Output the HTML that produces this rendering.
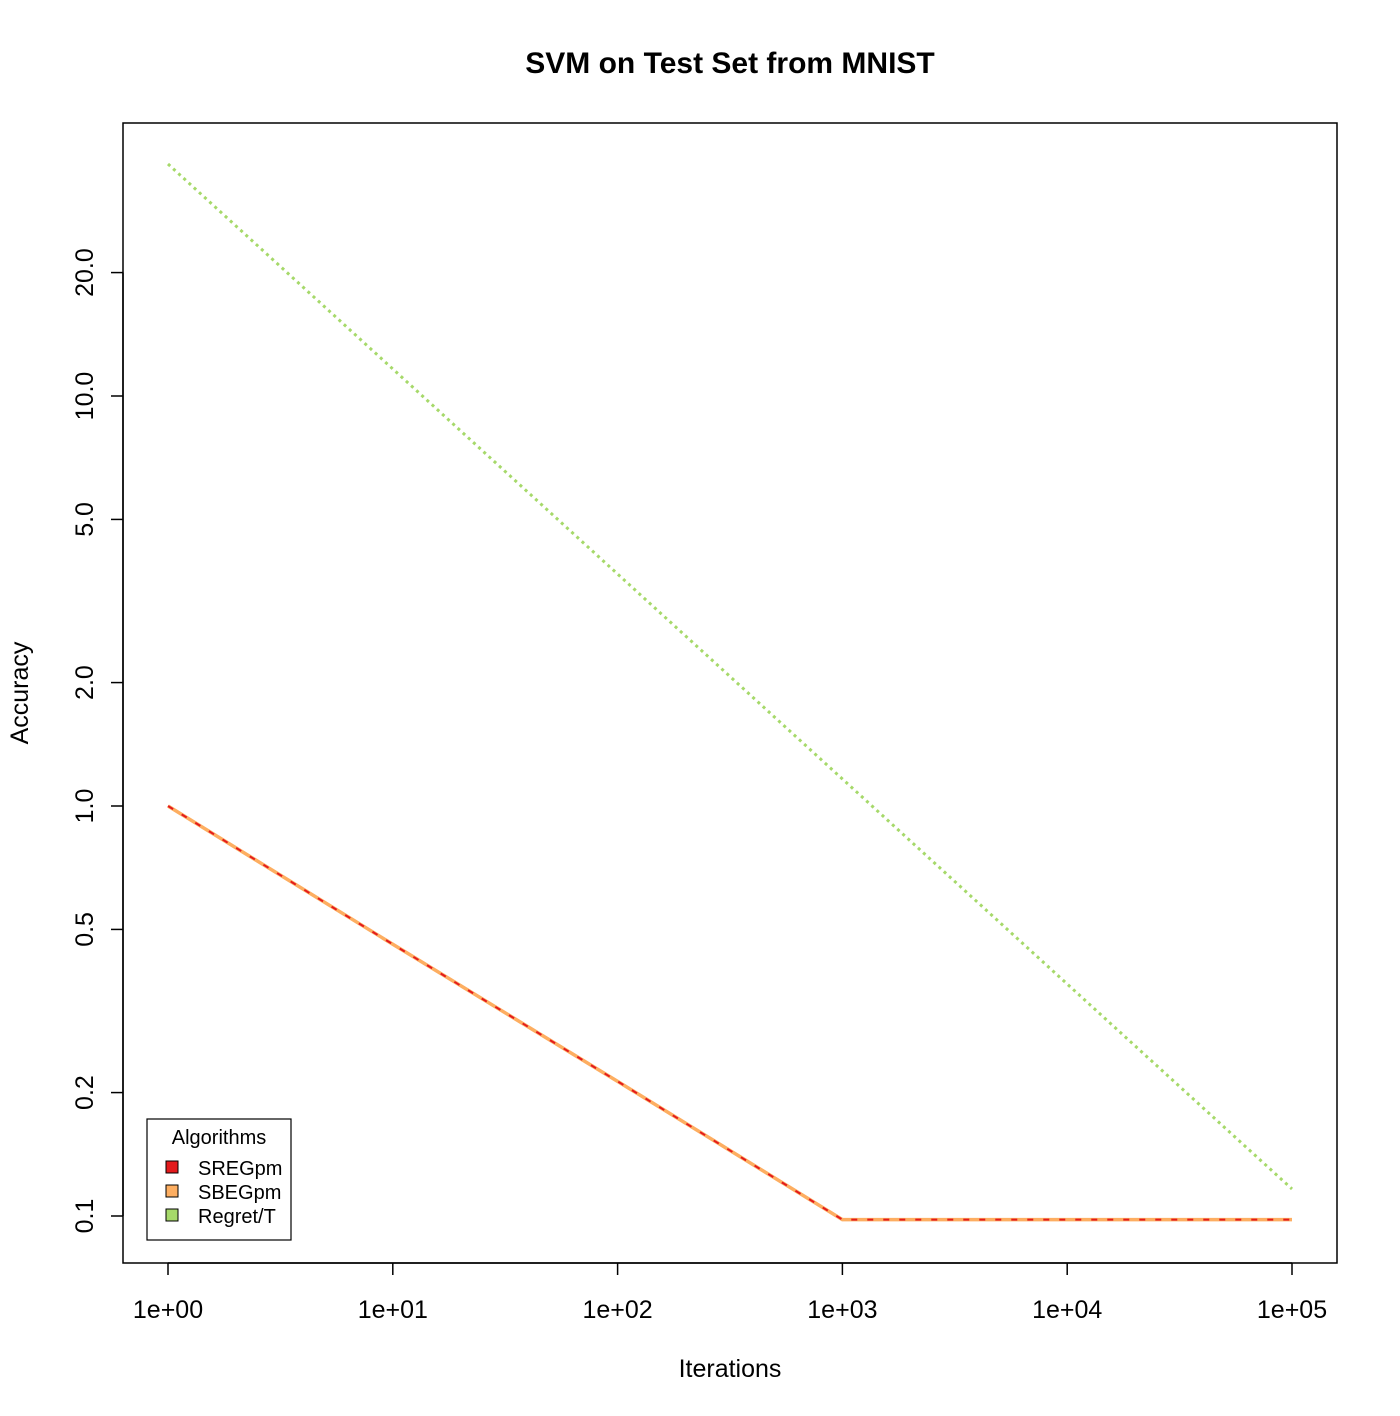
<!DOCTYPE html>
<html><head><meta charset="utf-8"><style>
body{margin:0;background:#fff}
svg{display:block;font-family:"Liberation Sans",sans-serif}
</style></head><body>
<svg id="chart" width="1400" height="1416" viewBox="0 0 1400 1416">
<rect width="1400" height="1416" fill="#fff"/>
<text x="730" y="73" text-anchor="middle" font-size="30" font-weight="bold">SVM on Test Set from MNIST</text>
<rect x="123" y="123" width="1214" height="1140" fill="none" stroke="#000" stroke-width="1.5"/>
<g id="xaxis"></g>
<g id="yaxis"></g>
<text x="730" y="1377" text-anchor="middle" font-size="25">Iterations</text>
<text transform="translate(28,693) rotate(-90)" text-anchor="middle" font-size="25">Accuracy</text>
<g id="series"></g>
<g>
<rect x="147" y="1119" width="144" height="121" fill="#fff" stroke="#000" stroke-width="1.2"/>
<text x="219" y="1144" text-anchor="middle" font-size="20">Algorithms</text>
<rect x="166" y="1161" width="12" height="12" fill="#e31a1c" stroke="#000"/>
<text x="198" y="1175" font-size="20">SREGpm</text>
<rect x="166" y="1185" width="12" height="12" fill="#fdae61" stroke="#000"/>
<text x="198" y="1199" font-size="20">SBEGpm</text>
<rect x="166" y="1209" width="12" height="12" fill="#a6d96a" stroke="#000"/>
<text x="198" y="1223" font-size="20">Regret/T</text>
</g>
</svg>
<script>
const iterations=[1,10,100,1000,10000,100000];
const sregpm=[1.0,0.46,0.213,0.098,0.098,0.098];
const sbegpm=[1.0,0.46,0.213,0.098,0.098,0.098];
const regret=[36.8,11.64,3.68,1.164,0.368,0.1164];
const xTicks=[1,10,100,1000,10000,100000];
const xTickLabels=["1e+00","1e+01","1e+02","1e+03","1e+04","1e+05"];
const yTicks=[0.1,0.2,0.5,1,2,5,10,20];
const yTickLabels=["0.1","0.2","0.5","1.0","2.0","5.0","10.0","20.0"];
const NS="http://www.w3.org/2000/svg";
function xs(v){return 168+Math.log10(v)*224.8;}
function ys(v){return 806-Math.log10(v)*410;}
function mk(tag,attrs,parent){const e=document.createElementNS(NS,tag);for(const k in attrs)e.setAttribute(k,attrs[k]);parent.appendChild(e);return e;}
const xa=document.getElementById('xaxis'),ya=document.getElementById('yaxis'),sg=document.getElementById('series');
mk('line',{x1:xs(xTicks[0]),x2:xs(xTicks[xTicks.length-1]),y1:1263,y2:1263,stroke:'#000','stroke-width':1.5},xa);
xTicks.forEach((t,i)=>{
 const l=mk('line',{x1:xs(t),x2:xs(t),y1:1263,y2:1275,stroke:'#000','stroke-width':1.5},xa);
 
 
 const tx=mk('text',{x:xs(t),y:1318,'text-anchor':'middle','font-size':25},xa);tx.textContent=xTickLabels[i];
 
 
});
mk('line',{x1:123,x2:123,y1:ys(yTicks[0]),y2:ys(yTicks[yTicks.length-1]),stroke:'#000','stroke-width':1.5},ya);
yTicks.forEach((t,i)=>{
 const l=mk('line',{x1:111,x2:123,y1:ys(t),y2:ys(t),stroke:'#000','stroke-width':1.5},ya);
 
 
 const y=ys(t);
 const tx=mk('text',{x:0,y:0,'text-anchor':'middle','font-size':25,transform:`translate(93,${y}) rotate(-90)`},ya);tx.textContent=yTickLabels[i];
 
 
});
function pts(arr){return iterations.map((x,i)=>xs(x)+','+ys(arr[i])).join(' ');}
const p2=mk('polyline',{points:pts(sbegpm),fill:'none',stroke:'#fdae61','stroke-width':3.5},sg);


const p1=mk('polyline',{points:pts(sregpm),fill:'none',stroke:'#e31a1c','stroke-width':2,'stroke-dasharray':'6,10'},sg);


const p3=mk('polyline',{points:pts(regret),fill:'none',stroke:'#a6d96a','stroke-width':3,'stroke-dasharray':'3,4'},sg);


</script>
</body></html>
